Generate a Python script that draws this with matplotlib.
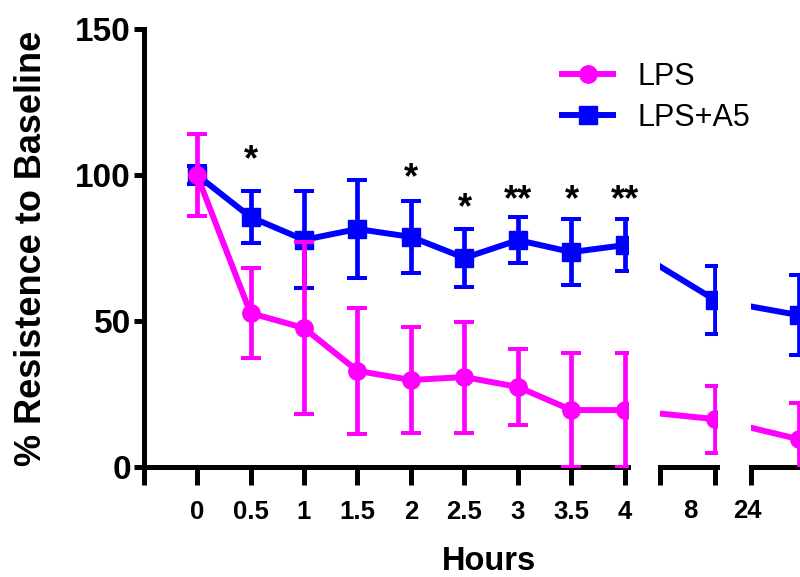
import numpy as np
import matplotlib.pyplot as plt
from matplotlib.transforms import blended_transform_factory

plt.rcParams['font.family'] = ['Liberation Sans', 'DejaVu Sans']

# data
hours = [0, 0.5, 1, 1.5, 2, 2.5, 3, 3.5, 4, 8, 24]
lps = [100, 52.7, 47.6, 32.9, 29.8, 30.8, 27.4, 19.5, 19.5, 16.4, 9.5]
lps_err = [14, 15.5, 29.3, 21.6, 18, 19, 13, 19.6, 19.5, 11.5, 12.5]
lps_a5 = [100, 85.6, 77.8, 81.5, 78.8, 71.6, 77.7, 73.6, 76, 57.2, 52]
lps_a5_err = [3, 9, 16.6, 16.8, 12.2, 10, 7.9, 11.3, 9, 11.8, 13.7]

sig_hours = [0.5, 2, 2.5, 3, 3.5, 4]
sig_marks = ['*', '*', '*', '**', '*', '**']
sig_y = [101.7, 95.5, 85.3, 88, 88, 88]

main_ticks = [0, 0.5, 1, 1.5, 2, 2.5, 3, 3.5, 4]
main_labels = ['0', '0.5', '1', '1.5', '2', '2.5', '3', '3.5', '4']

pink = '#FF00FF'
blue = '#0000FF'

# broken x axis: 0-4 h linear, then 4-8 and 8-24 squeezed
knot_h = np.array([-10, 4, 8, 24, 200])
knot_p = np.array([-10, 4, 4.841, 5.626, 5.626 + 176 * 0.049])


def fwd(h):
    return np.interp(h, knot_h, knot_p)


def inv(p):
    return np.interp(p, knot_p, knot_h)


W, H = 800, 577
x0_px, px_per = 197, 107.0
bot_px, top_px = 467, 29
segments = [(143.5, 628), (660, 717), (751, 860)]

fig = plt.figure(figsize=(8, 5.77), dpi=100)
axes = []
for i, (l, r) in enumerate(segments):
    ax = fig.add_axes([l / W, 1 - bot_px / H, (r - l) / W, (bot_px - top_px) / H])
    ax.set_xscale('function', functions=(fwd, inv))
    ax.set_xlim(inv((l - x0_px) / px_per), inv((r - x0_px) / px_per))
    ax.set_ylim(0, 150)
    for s in ['top', 'right']:
        ax.spines[s].set_visible(False)
    ax.spines['bottom'].set_linewidth(3.6)
    ax.spines['left'].set_linewidth(3.6)
    ax.spines['bottom'].set_zorder(2)
    ax.tick_params(axis='x', direction='out', length=13, width=3.6, pad=11,
                   labelsize=18.5)
    ax.tick_params(axis='y', direction='out', length=7, width=3.6, pad=2,
                   labelsize=24)
    if i > 0:
        ax.spines['left'].set_visible(False)
        ax.set_yticks([])
    ax.patch.set_visible(False)

    eb_b = ax.errorbar(hours, lps_a5, yerr=lps_a5_err, color=blue, marker='s',
                       ms=13, lw=4.3, elinewidth=3.4, capsize=7.5, capthick=2.9,
                       zorder=3)
    eb_p = ax.errorbar(hours, lps, yerr=lps_err, color=pink, marker='o',
                       ms=12.5, lw=4.3, elinewidth=3.4, capsize=7.5, capthick=2.9,
                       zorder=4)
    axes.append(ax)

ax1, ax2, ax3 = axes
ax1.set_xticks([-0.5] + main_ticks, [''] + main_labels)
ax1.set_yticks([0, 50, 100, 150])
for lab in ax1.get_xticklabels() + ax1.get_yticklabels():
    lab.set_fontweight('bold')
ax2.set_xticks([ax2.get_xlim()[0], 8], ['', ''])
ax3.set_xticks([ax3.get_xlim()[0]], [''])

# labels of the squeezed segments sit between the ticks
tr2 = blended_transform_factory(ax2.transData, ax2.transAxes)
ax2.text(inv((690 - x0_px) / px_per), -0.072, '8', transform=tr2, ha='center',
         va='top', fontsize=18.5, fontweight='bold', clip_on=False)
tr3 = blended_transform_factory(ax3.transData, ax3.transAxes)
ax3.text(inv((747 - x0_px) / px_per), -0.072, '24', transform=tr3, ha='center',
         va='top', fontsize=18.5, fontweight='bold', clip_on=False)

for h, m, y in zip(sig_hours, sig_marks, sig_y):
    ax1.text(h, y, m, ha='center', va='baseline', fontsize=26, fontweight='bold')

ax1.set_ylabel('% Resistence to Baseline', fontsize=26, fontweight='bold')
ax1.yaxis.set_label_coords(-0.195, 0.5)
fig.text(489.5 / W, 1 - 570 / H, 'Hours', ha='center', va='baseline',
         fontsize=23.5, fontweight='bold')

fig.legend(handles=[eb_p[0], eb_b[0]], labels=['LPS', 'LPS+A5'],
           loc='upper left', bbox_to_anchor=(562 / W, 1 - 62 / H),
           frameon=False, fontsize=22, handlelength=1.67, handletextpad=0.8,
           labelspacing=0.35, borderpad=0, borderaxespad=0)

fig.savefig('out.png', dpi=100)
